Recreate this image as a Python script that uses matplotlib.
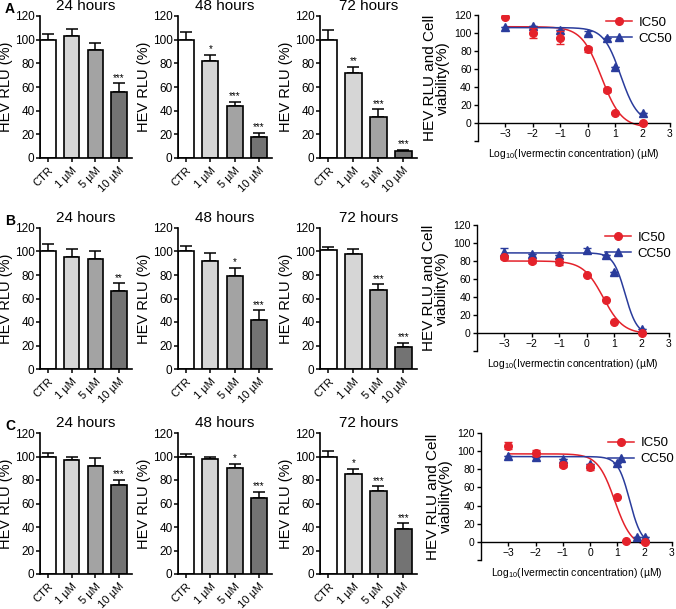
import numpy as np
import matplotlib
matplotlib.use("Agg")
import matplotlib.pyplot as plt
from matplotlib.lines import Line2D

plt.rcParams['font.family'] = ['Liberation Sans', 'DejaVu Sans']
plt.rcParams['mathtext.default'] = 'regular'

# ---- bar chart data (HEV RLU %) ----
doses = ["CTR", "1 \u00b5M", "5 \u00b5M", "10 \u00b5M"]
hours = ["24 hours", "48 hours", "72 hours"]
bar_colors = ["#ffffff", "#d6d6d6", "#a3a3a3", "#737373"]

a_vals = [[100, 103, 91, 56], [100, 82, 44, 18], [100, 72, 35, 6]]
a_errs = [[5, 6, 6, 7], [6.5, 5, 3.5, 3.5], [8, 5, 6, 1]]
a_sig = [["", "", "", "***"], ["", "*", "***", "***"], ["", "**", "***", "***"]]

b_vals = [[100, 95, 94, 66], [100, 92, 79, 42], [101, 98, 67, 19]]
b_errs = [[6, 7.5, 6, 7], [5, 6.5, 7, 8], [3, 4.5, 5, 3]]
b_sig = [["", "", "", "**"], ["", "", "*", "***"], ["", "", "***", "***"]]

c_vals = [[100, 97, 92, 76], [100, 97.5, 90, 64.5], [100, 85.5, 71, 38]]
c_errs = [[3, 2.5, 6.5, 4], [2, 2, 3.5, 5.5], [5, 4, 3.5, 5]]
c_sig = [["", "", "", "***"], ["", "", "*", "***"], ["", "*", "***", "***"]]

# ---- dose-response data (log10 uM) ----
a_ic_x = [-3, -2, -1, 0, 0.7, 1, 2]
a_ic_y = [118, 100, 95, 82, 37, 11, 0]
a_ic_e = [0, 6, 7, 3, 2, 1, 0]
a_cc_x = [-3, -2, -1, 0, 0.7, 1, 2]
a_cc_y = [107, 108, 103, 100, 94, 62, 11]
a_cc_e = [0, 0, 0, 2, 0, 0, 0]

b_ic_x = [-3, -2, -1, 0, 0.7, 1, 2]
b_ic_y = [84, 80, 79, 64, 37, 12, 0]
b_ic_e = [2, 2, 3, 0, 0, 0, 0]
b_cc_x = [-3, -2, -1, 0, 0.7, 1, 2]
b_cc_y = [90, 88, 87, 92, 87, 68, 4]
b_cc_e = [4, 0, 0, 3, 0, 0, 0]

c_ic_x = [-3, -2, -1, 0, 1, 1.3, 2]
c_ic_y = [106, 98, 85, 82, 49, 1, 0]
c_ic_e = [4, 3, 3, 3, 0, 0, 0]
c_cc_x = [-3, -2, -1, 0, 1, 1.7, 2]
c_cc_y = [95, 94, 91, 86, 87, 5, 5]
c_cc_e = [0, 0, 0, 0, 0, 0, 0]

# fitted 4PL parameters: top, bottom, logEC50, hill
a_ic_fit = (107, -5, 0.5, 1.2)
a_cc_fit = (106, 0, 1.2, 1.4)
b_ic_fit = (80, -1, 0.6, 1.2)
b_cc_fit = (89, -2, 1.4, 2.0)
c_ic_fit = (97, -6, 0.9, 1.4)
c_cc_fit = (94, -3, 1.45, 2.0)

W, H = 676, 609
fig = plt.figure(figsize=(W / 100, H / 100), dpi=100)


def box(l, t, r, b):
    return [l / W, 1 - b / H, (r - l) / W, (b - t) / H]


RED = "#e4222b"
BLUE = "#2a3c9c"


def bar_panel(rect, vals, errs, sig, title, letter=None):
    ax = fig.add_axes(box(*rect))
    x = np.arange(len(doses))
    ax.errorbar(x, vals, yerr=[np.zeros(len(errs)), errs], fmt='none',
                ecolor='black', elinewidth=1.1, capsize=4, capthick=1.1, zorder=1)
    ax.bar(x, vals, width=0.66, color=bar_colors, edgecolor='black',
           linewidth=1.2, zorder=2)
    for i, s in enumerate(sig):
        if s:
            ax.text(i, vals[i] + errs[i] + 0.5, s, ha='center', va='bottom',
                    fontsize=7)
    ax.set_xlim(-0.34, 3.55)
    ax.set_ylim(0, 120)
    ax.set_yticks(range(0, 121, 20))
    ax.set_xticks(x)
    ax.set_xticklabels(doses, rotation=45, ha='right', rotation_mode='anchor',
                       fontsize=8)
    ax.tick_params(axis='y', labelsize=8.5, length=3, width=1.1, pad=1)
    ax.tick_params(axis='x', length=3, width=1.1, pad=2)
    for s in ['top', 'right']:
        ax.spines[s].set_visible(False)
    for s in ['left', 'bottom']:
        ax.spines[s].set_linewidth(1.2)
    ax.set_ylabel("HEV RLU (%)", fontsize=10.5, labelpad=1)
    ax.set_title(title, fontsize=11, pad=4)
    if letter:
        ax.text(-0.38, 1.0, letter, transform=ax.transAxes, fontsize=10,
                fontweight='bold', va='bottom')
    return ax


def fourpl(xs, p):
    top, bottom, logc, h = p
    return bottom + (top - bottom) / (1 + 10 ** ((xs - logc) * h))


def dr_panel(rect, ic, cc, ic_fit, cc_fit, leg_y):
    ax = fig.add_axes(box(*rect))
    xs = np.linspace(-3, 2, 300)
    ax.plot(xs, fourpl(xs, ic_fit), color=RED, lw=1.1, zorder=2)
    ax.plot(xs, fourpl(xs, cc_fit), color=BLUE, lw=1.1, zorder=2)
    ax.errorbar(cc[0], cc[1], yerr=cc[2], fmt='^', color=BLUE, ms=5.5,
                capsize=3, elinewidth=1, zorder=3)
    ax.errorbar(ic[0], ic[1], yerr=ic[2], fmt='o', color=RED, ms=5.5,
                capsize=3, elinewidth=1, zorder=4)
    ax.set_xlim(-4, 3)
    ax.set_ylim(-20, 120)
    ax.set_yticks(range(-20, 121, 20))
    ax.set_yticklabels([""] + [str(v) for v in range(0, 121, 20)])
    ax.set_xticks(range(-3, 4))
    ax.spines['bottom'].set_position(('data', 0))
    for s in ['top', 'right']:
        ax.spines[s].set_visible(False)
    for s in ['left', 'bottom']:
        ax.spines[s].set_linewidth(1.0)
    ax.tick_params(labelsize=7.5, length=3, width=1.0, pad=1.5)
    ax.set_ylabel("HEV RLU and Cell\nviability(%)", fontsize=11,
                  linespacing=0.95, labelpad=3)
    ax.text(0.5, (0 - (-20)) / 140 - 0.19,
            "Log$_{10}$(Ivermectin concentration) (\u00b5M)",
            transform=ax.transAxes, ha='center', va='top', fontsize=7.5)
    handles = [Line2D([0], [0], color=RED, marker='o', ms=5.5, lw=1.1),
               Line2D([0], [0], color=BLUE, marker='^', ms=5.5, lw=1.1)]
    ax.legend(handles, ["IC50", "CC50"], loc='upper right',
              bbox_to_anchor=(1.04, leg_y), frameon=False, fontsize=9.5,
              handlelength=2.0, handletextpad=0.5, labelspacing=0.3,
              borderaxespad=0)
    return ax


rows = [
    (a_vals, a_errs, a_sig, 16, 158, "A"),
    (b_vals, b_errs, b_sig, 228, 369, "B"),
    (c_vals, c_errs, c_sig, 433, 574, "C"),
]
cols = [(40, 132), (178, 272), (320, 417)]

for vals, errs, sig, top, bot, letter in rows:
    for j, (l, r) in enumerate(cols):
        bar_panel((l, top, r, bot), vals[j], errs[j], sig[j], hours[j],
                  letter if j == 0 else None)

dr_panel((478, 15, 670, 141), (a_ic_x, a_ic_y, a_ic_e), (a_cc_x, a_cc_y, a_cc_e),
         a_ic_fit, a_cc_fit, 1.03)
dr_panel((477, 225, 669, 351), (b_ic_x, b_ic_y, b_ic_e), (b_cc_x, b_cc_y, b_cc_e),
         b_ic_fit, b_cc_fit, 0.99)
dr_panel((481, 433, 672, 560), (c_ic_x, c_ic_y, c_ic_e), (c_cc_x, c_cc_y, c_cc_e),
         c_ic_fit, c_cc_fit, 1.01)

fig.savefig("out.png", dpi=100)
